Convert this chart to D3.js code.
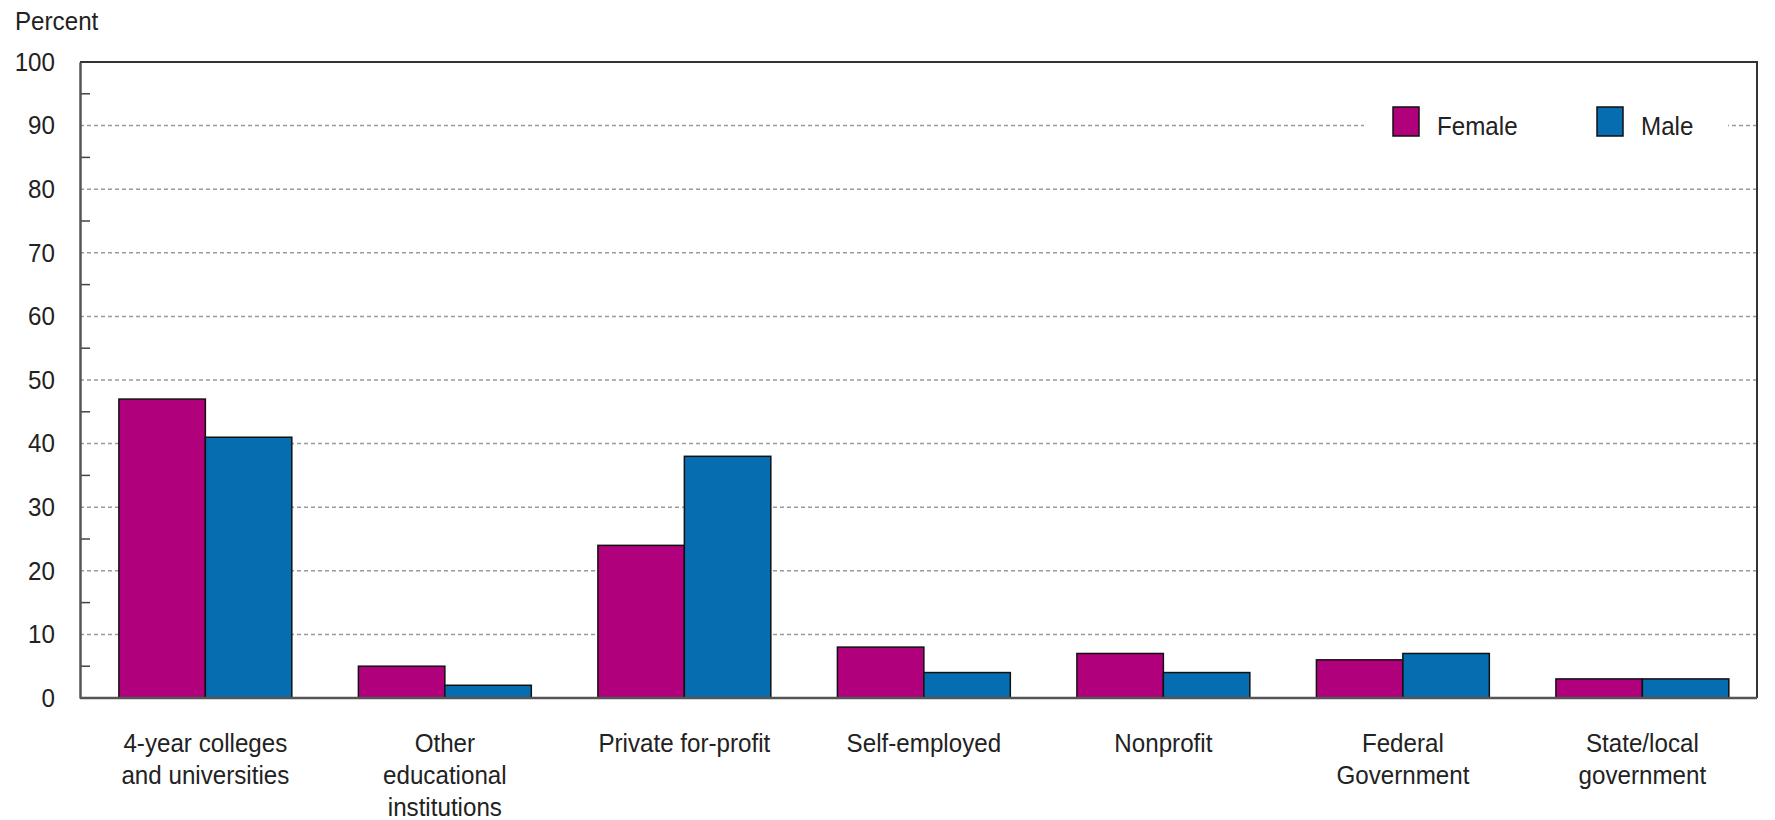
<!DOCTYPE html>
<html>
<head>
<meta charset="utf-8">
<script src="https://cdn.jsdelivr.net/npm/d3@7"></script>
<style>
  body { margin: 0; background: #fff; }
  text { font-family: "Liberation Sans", Arial, sans-serif; fill: #222; }
</style>
</head>
<body>
<div id="chart"></div>
<script>
// data
const categories = [
  ["4-year colleges", "and universities"],
  ["Other", "educational", "institutions"],
  ["Private for-profit"],
  ["Self-employed"],
  ["Nonprofit"],
  ["Federal", "Government"],
  ["State/local", "government"]
];
const female = [47, 5, 24, 8, 7, 6, 3];
const male = [41, 2, 38, 4, 4, 7, 3];
const seriesNames = ["Female", "Male"];
const seriesColors = ["#b0007b", "#066eb0"];
const yTicks = [0, 10, 20, 30, 40, 50, 60, 70, 80, 90, 100];

const width = 1775, height = 820;
const margin = {top: 62, right: 18, bottom: 122, left: 80};
const plotW = width - margin.left - margin.right,
    plotH = height - margin.top - margin.bottom;
const squeeze = "scale(0.93,1)";   // the reference type is a bit narrow

const svg = d3.select("#chart").append("svg")
    .attr("width", width)
    .attr("height", height);

const g = svg.append("g")
    .attr("transform", `translate(${margin.left},${margin.top})`);

const x = d3.scaleBand()
    .domain(d3.range(categories.length))
    .range([0, plotW])
    .paddingInner(0.278)
    .paddingOuter(0.14)
    .align(0.58);

const xSub = d3.scaleBand()
    .domain(seriesNames)
    .range([0, x.bandwidth()]);

const y = d3.scaleLinear()
    .domain([0, 100])
    .range([plotH, 0]);

// dashed gridlines
g.append("g")
    .selectAll("line")
    .data(yTicks.filter(d => d > 0 && d < 100))
    .join("line")
    .attr("x1", 0)
    .attr("x2", plotW)
    .attr("y1", d => y(d))
    .attr("y2", d => y(d))
    .attr("stroke", "#9a9a9a")
    .attr("stroke-width", 1.5)
    .attr("stroke-dasharray", "4,3");

// minor ticks at the fives, drawn inside
g.append("g")
    .selectAll("line")
    .data(d3.range(5, 100, 10))
    .join("line")
    .attr("x1", 0)
    .attr("x2", 10)
    .attr("y1", d => y(d))
    .attr("y2", d => y(d))
    .attr("stroke", "#444")
    .attr("stroke-width", 1.5);

// legend (white box hides the 90 gridline behind it)
const legend = g.append("g");
legend.append("rect")
    .attr("x", 1284)
    .attr("y", 40)
    .attr("width", 364)
    .attr("height", 50)
    .attr("fill", "#fff");
const legendX = [1313, 1517];
seriesNames.forEach((name, i) => {
  legend.append("rect")
      .attr("x", legendX[i])
      .attr("y", 45)
      .attr("width", 26)
      .attr("height", 29)
      .attr("fill", seriesColors[i])
      .attr("stroke", "#111")
      .attr("stroke-width", 1.5);
  legend.append("text")
      .attr("transform", `translate(${legendX[i] + 44},73) ${squeeze}`)
      .attr("font-size", 26)
      .text(name);
});

// bars
const groups = g.append("g")
    .selectAll("g")
    .data(categories.map((c, i) => i))
    .join("g")
    .attr("transform", i => `translate(${x(i)},0)`);

groups.selectAll("rect")
    .data(i => [
      {key: "Female", value: female[i], color: seriesColors[0]},
      {key: "Male", value: male[i], color: seriesColors[1]}
    ])
    .join("rect")
    .attr("x", d => xSub(d.key))
    .attr("y", d => y(d.value))
    .attr("width", xSub.bandwidth())
    .attr("height", d => plotH - y(d.value))
    .attr("fill", d => d.color)
    .attr("stroke", "#111")
    .attr("stroke-width", 1.5);

// frame: top and right
g.append("path")
    .attr("d", `M0,0H${plotW}V${plotH}`)
    .attr("fill", "none")
    .attr("stroke", "#333")
    .attr("stroke-width", 2);

// y axis
const yAxis = g.append("g")
    .call(d3.axisLeft(y).tickValues(yTicks).tickSize(0).tickPadding(25));
yAxis.select(".domain").attr("stroke", "#555").attr("stroke-width", 2.5);
yAxis.selectAll("text")
    .attr("font-size", 26)
    .attr("fill", "#222")
    .each(function() {
      const t = d3.select(this);
      t.attr("transform", `translate(${t.attr("x")},0) ${squeeze}`).attr("x", 0);
    });

// x baseline
g.append("line")
    .attr("x1", 0)
    .attr("x2", plotW)
    .attr("y1", plotH)
    .attr("y2", plotH)
    .attr("stroke", "#555")
    .attr("stroke-width", 2.5);

// category labels
const labels = g.append("g")
    .selectAll("text")
    .data(categories)
    .join("text")
    .attr("text-anchor", "middle")
    .attr("font-size", 26)
    .attr("transform", (d, i) => `translate(${x(i) + x.bandwidth() / 2},${plotH + 54}) ${squeeze}`);
labels.selectAll("tspan")
    .data(d => d)
    .join("tspan")
    .attr("x", 0)
    .attr("dy", (d, j) => j === 0 ? 0 : 32)
    .text(d => d);

// y title
svg.append("text")
    .attr("transform", `translate(15,30) ${squeeze}`)
    .attr("font-size", 26)
    .text("Percent");
</script>
</body>
</html>
